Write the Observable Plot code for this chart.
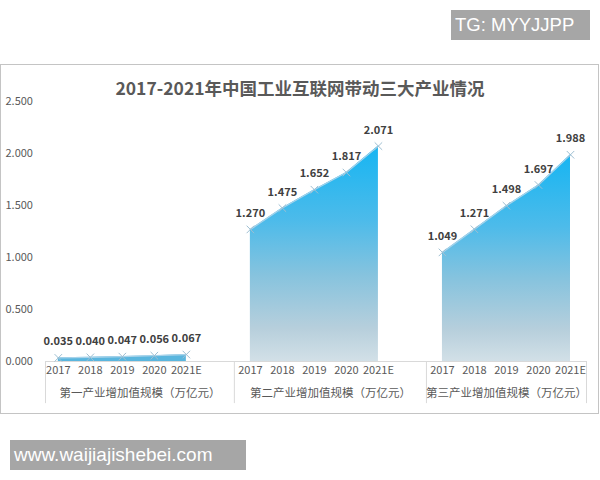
<!DOCTYPE html>
<html>
<head>
<meta charset="utf-8">
<script src="https://cdn.jsdelivr.net/npm/d3@7"></script>
<script src="https://cdn.jsdelivr.net/npm/@observablehq/plot@0.6"></script>
<style>
  html, body { margin: 0; padding: 0; background: #fff; }
  #wrap { position: relative; width: 600px; height: 480px; overflow: hidden; font-family: "Noto Sans CJK SC", sans-serif; }
  #frame { position: absolute; left: 0; top: 64px; width: 599px; height: 350px; box-sizing: border-box; border: 1px solid #c4c4c4; }
  #title { position: absolute; left: 0; width: 600px; top: 75px; text-align: center; font-size: 17.5px; font-weight: bold; color: #595959; }
  #chart { position: absolute; left: 0; top: 0; }
  .tag { position: absolute; background: #a6a6a6; color: #fff; font-family: "Liberation Sans", Arial, sans-serif; line-height: 30px; height: 30px; box-sizing: border-box; padding-left: 4px; }
  #tg { left: 451px; top: 10px; width: 139px; font-size: 18.5px; }
  #www { left: 10px; top: 440px; width: 236px; font-size: 19px; }
</style>
</head>
<body>
<div id="wrap">
  <div id="frame"></div>
  <div id="chart"></div>
  <div id="title">2017-2021年中国工业互联网带动三大产业情况</div>
  <div class="tag" id="tg">TG: MYYJJPP</div>
  <div class="tag" id="www">www.waijiajishebei.com</div>
</div>
<script>
const groups = ["第一产业增加值规模（万亿元）", "第二产业增加值规模（万亿元）", "第三产业增加值规模（万亿元）"];
const years = ["2017", "2018", "2019", "2020", "2021E"];
const primary = [0.035, 0.040, 0.047, 0.056, 0.067];
const secondary = [1.270, 1.475, 1.652, 1.817, 2.071];
const tertiary = [1.049, 1.271, 1.498, 1.697, 1.988];
const yTicks = [0, 0.5, 1.0, 1.5, 2.0, 2.5];

const series = [primary, secondary, tertiary];
const rows = [];
series.forEach((vals, g) => {
  vals.forEach((v, j) => {
    rows.push({group: groups[g], gi: g, pos: g * 6 + j, year: years[j], value: v});
  });
});
const separators = [-0.4, 5.5, 11.5, 16.5];
const groupLabels = groups.map((name, g) => ({name, pos: (separators[g] + separators[g + 1]) / 2}));

const font = "'Noto Sans CJK SC', sans-serif";

const chart = Plot.plot({
  width: 600,
  height: 480,
  marginLeft: 45,
  marginRight: 14,
  marginTop: 101,
  marginBottom: 119,
  style: {fontFamily: font, background: "transparent", overflow: "visible"},
  x: {type: "linear", domain: [-0.4, 16.5], axis: null},
  y: {domain: [0, 2.5], axis: null},
  marks: [
    Plot.ruleY([0], {stroke: "#d9d9d9", strokeWidth: 1}),
    Plot.ruleX(separators, {y1: 0, y2: -0.405, stroke: "#d9d9d9", strokeWidth: 1}),
    Plot.areaY(rows.filter(d => d.gi > 0), {x: "pos", y: "value", z: "group", fill: "url(#areaGrad)"}),
    Plot.areaY(rows.filter(d => d.gi === 0), {x: "pos", y: "value", z: "group", fill: "#5ab6de"}),
    Plot.lineY(rows, {x: "pos", y: "value", z: "group", stroke: "#a9d3ea", strokeWidth: 1.2}),
    Plot.dot(rows, {x: "pos", y: "value", symbol: "times", r: 3.5, stroke: "#9fbfd2", strokeWidth: 1}),
    Plot.text(rows, {x: "pos", y: "value", text: d => d3.format(".3f")(d.value), dy: -16, fontSize: 11, fontWeight: "bold", fill: "#404040"}),
    Plot.text(rows, {x: "pos", text: "year", frameAnchor: "bottom", dy: 12, fontSize: 11, fill: "#595959"}),
    Plot.text(groupLabels, {x: "pos", text: "name", frameAnchor: "bottom", dy: 35, fontSize: 11.5, fill: "#595959"}),
    Plot.text(yTicks, {y: d => d, text: d => d3.format(".3f")(d), frameAnchor: "left", dx: -40, textAnchor: "start", fontSize: 11, fill: "#595959"})
  ]
});

const svg = d3.select(chart);
const defs = svg.insert("defs", ":first-child");
const grad = defs.append("linearGradient").attr("id", "areaGrad").attr("x1", 0).attr("y1", 0).attr("x2", 0).attr("y2", 1);
[[0, "#16b5f2"], [0.35, "#4dbbea"], [0.6, "#86c3de"], [0.85, "#b7cfdc"], [1, "#d2e0e7"]].forEach(([o, c]) => {
  grad.append("stop").attr("offset", o).attr("stop-color", c);
});

document.getElementById("chart").appendChild(chart);
</script>
</body>
</html>
